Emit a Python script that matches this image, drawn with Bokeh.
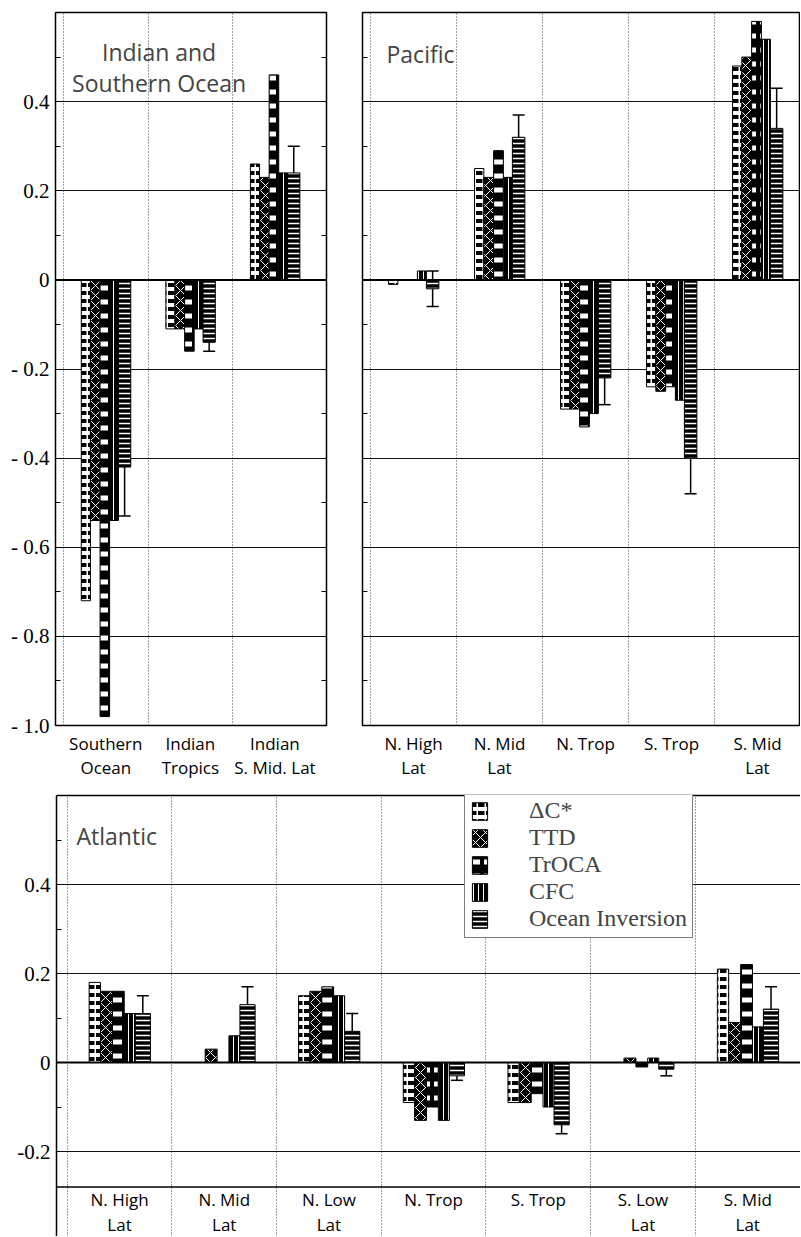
import numpy as np
from bokeh.plotting import figure
from bokeh.layouts import column, row
from bokeh.models import (Range1d, FixedTicker, LinearAxis, Span, Label, Whisker, TeeHead,
                          ColumnDataSource, CustomJSTickFormatter, Legend, LegendItem)
from bokeh.core.properties import value
from bokeh.embed import file_html
from bokeh.resources import INLINE

# ---------------- data ----------------
methods = ["ΔC*", "TTD", "TrOCA", "CFC", "Ocean Inversion"]

indian_regions = ["Southern\nOcean", "Indian\nTropics", "Indian\nS. Mid. Lat"]
indian_dc = [-0.72, -0.11, 0.26]
indian_ttd = [-0.54, -0.11, 0.23]
indian_troca = [-0.98, -0.16, 0.46]
indian_cfc = [-0.54, -0.11, 0.24]
indian_oi = [-0.42, -0.14, 0.24]
indian_oi_err = [0.11, 0.02, 0.06]

pacific_regions = ["N. High\nLat", "N. Mid\nLat", "N. Trop", "S. Trop", "S. Mid\nLat"]
pacific_dc = [-0.01, 0.25, -0.29, -0.24, 0.48]
pacific_ttd = [0.0, 0.23, -0.29, -0.25, 0.50]
pacific_troca = [0.0, 0.29, -0.33, -0.24, 0.58]
pacific_cfc = [0.02, 0.23, -0.30, -0.27, 0.54]
pacific_oi = [-0.02, 0.32, -0.22, -0.40, 0.34]
pacific_oi_err = [0.04, 0.05, 0.06, 0.08, 0.09]

atlantic_regions = ["N. High\nLat", "N. Mid\nLat", "N. Low\nLat", "N. Trop", "S. Trop",
                    "S. Low\nLat", "S. Mid\nLat"]
atlantic_dc = [0.18, 0.0, 0.15, -0.09, -0.09, 0.0, 0.21]
atlantic_ttd = [0.16, 0.03, 0.16, -0.13, -0.09, 0.01, 0.09]
atlantic_troca = [0.16, 0.0, 0.17, -0.10, -0.07, -0.01, 0.22]
atlantic_cfc = [0.11, 0.06, 0.15, -0.13, -0.10, 0.01, 0.08]
atlantic_oi = [0.11, 0.13, 0.07, -0.03, -0.14, -0.015, 0.12]
atlantic_oi_err = [0.04, 0.04, 0.04, 0.01, 0.02, 0.015, 0.05]

# ---------------- styles ----------------
EDGES = [-0.29, -0.182, -0.068, 0.045, 0.15, 0.295]
BAR_CENTERS = [(EDGES[i] + EDGES[i + 1]) / 2 for i in range(5)]
BAR_WIDTHS = [EDGES[i + 1] - EDGES[i] for i in range(5)]

HATCH = [
    dict(fill_color="white", hatch_pattern="horizontal_dash", hatch_scale=8,
         hatch_weight=4, hatch_color="black"),
    dict(fill_color="black", hatch_pattern="diagonal_cross", hatch_scale=10,
         hatch_weight=1, hatch_color="white"),
    dict(fill_color="black", hatch_pattern="horizontal_dash", hatch_scale=14,
         hatch_weight=5, hatch_color="white"),
    dict(fill_color="black", hatch_pattern="vertical_line", hatch_scale=5,
         hatch_weight=1, hatch_color="white"),
    dict(fill_color="black", hatch_pattern="horizontal_line", hatch_scale=5,
         hatch_weight=1.5, hatch_color="white"),
]

SANS = "Open Sans"
SERIF = "Liberation Serif"
LBL_LH = 1.08


def add_bars(p, regions, series, oi_err):
    centers = np.arange(len(regions)) + 0.5
    rends = []
    for j, vals in enumerate(series):
        src = ColumnDataSource(dict(x=centers + BAR_CENTERS[j], top=vals))
        r = p.vbar(x="x", top="top", bottom=0, width=BAR_WIDTHS[j], source=src,
                   line_color="black", line_width=1, **HATCH[j])
        rends.append(r)
    oi = np.array(series[4], dtype=float)
    err = np.array(oi_err, dtype=float)
    wsrc = ColumnDataSource(dict(x=centers + BAR_CENTERS[4], lo=oi - err, hi=oi + err))
    w = Whisker(base="x", lower="lo", upper="hi", source=wsrc, line_color="black",
                line_width=1.5,
                upper_head=TeeHead(size=12, line_width=1.5, line_color="black"),
                lower_head=TeeHead(size=12, line_width=1.5, line_color="black"))
    p.add_layout(w)
    return rends


def style_yaxis(ax, major, minor, code, size="21px"):
    ax.ticker = FixedTicker(ticks=major, minor_ticks=minor)
    ax.formatter = CustomJSTickFormatter(code=code)
    ax.axis_line_color = None
    ax.major_tick_in = 5
    ax.major_tick_out = 0
    ax.minor_tick_in = 5
    ax.minor_tick_out = 0
    ax.major_tick_line_color = "black"
    ax.minor_tick_line_color = "black"
    ax.major_tick_line_width = 1.2
    ax.minor_tick_line_width = 1.2
    ax.major_label_text_font = SERIF
    ax.major_label_text_font_size = size
    ax.major_label_text_color = "black"
    ax.major_label_standoff = 6


def style_xaxis(ax, regions):
    ax.ticker = FixedTicker(ticks=list(np.arange(len(regions)) + 0.5))
    ax.formatter = CustomJSTickFormatter(args=dict(labels=regions),
                                         code="return labels[Math.round(tick - 0.5)];")
    ax.axis_line_color = None
    ax.major_tick_line_color = None
    ax.minor_tick_line_color = None
    ax.major_label_text_font = SANS
    ax.major_label_text_font_size = "17px"
    ax.major_label_text_color = "black"
    ax.major_label_text_line_height = LBL_LH
    ax.major_label_standoff = 0


def common(p, boundaries, grid_vals):
    p.xgrid.ticker = FixedTicker(ticks=boundaries)
    p.xgrid.grid_line_color = "#444444"
    p.xgrid.grid_line_dash = "1 2"
    p.xgrid.grid_line_width = 1
    p.ygrid.ticker = FixedTicker(ticks=grid_vals)
    p.ygrid.grid_line_color = "#111111"
    p.ygrid.grid_line_width = 1.2
    p.add_layout(Span(location=0, dimension="width", line_color="black", line_width=2))
    p.background_fill_color = "white"
    p.border_fill_color = "white"


NEG_FMT = ("if (Math.abs(tick) < 1e-9) return '0';"
           "return (tick < 0 ? '- ' : '') + Math.abs(tick).toFixed(1);")
BLANK_FMT = "return '';"
TOP_MAJOR = [-1.0, -0.8, -0.6, -0.4, -0.2, 0.0, 0.2, 0.4]
TOP_MINOR = [-0.9, -0.7, -0.5, -0.3, -0.1, 0.1, 0.3, 0.5]
TOP_GRID = [-0.8, -0.6, -0.4, -0.2, 0.2, 0.4]

# ---------------- Indian & Southern Ocean ----------------
p1 = figure(width=340, height=782, output_backend="svg", toolbar_location=None,
            x_range=Range1d(-0.095, 3.11), y_range=Range1d(-1.0, 0.6),
            min_border_left=55, min_border_right=14, min_border_top=12, min_border_bottom=56)
p1.outline_line_color = "black"
p1.outline_line_width = 1.5
common(p1, [0, 1, 2], TOP_GRID)
style_yaxis(p1.yaxis[0], TOP_MAJOR, TOP_MINOR, NEG_FMT)
r_ax = LinearAxis()
style_yaxis(r_ax, TOP_MAJOR, TOP_MINOR, BLANK_FMT)
r_ax.major_label_standoff = 0
p1.add_layout(r_ax, "right")
style_xaxis(p1.xaxis[0], indian_regions)
add_bars(p1, indian_regions,
         [indian_dc, indian_ttd, indian_troca, indian_cfc, indian_oi], indian_oi_err)
p1.add_layout(Label(x=1.13, y=0.511, text="Indian and", text_align="center",
                    text_baseline="alphabetic", text_font=SANS, text_font_size="23px"))
p1.add_layout(Label(x=1.13, y=0.441, text="Southern Ocean", text_align="center",
                    text_baseline="alphabetic", text_font=SANS, text_font_size="23px"))

# ---------------- Pacific ----------------
p2 = figure(width=460, height=782, output_backend="svg", toolbar_location=None,
            x_range=Range1d(-0.093, 5.0), y_range=Range1d(-1.0, 0.6),
            min_border_left=22, min_border_right=0, min_border_top=12, min_border_bottom=56)
p2.outline_line_color = "black"
p2.outline_line_width = 1.5
common(p2, [0, 1, 2, 3, 4], TOP_GRID)
style_yaxis(p2.yaxis[0], TOP_MAJOR, TOP_MINOR, BLANK_FMT)
p2.yaxis[0].major_label_standoff = 0
style_xaxis(p2.xaxis[0], pacific_regions)
add_bars(p2, pacific_regions,
         [pacific_dc, pacific_ttd, pacific_troca, pacific_cfc, pacific_oi], pacific_oi_err)
p2.add_layout(Label(x=0.186, y=0.507, text="Pacific", text_align="left",
                    text_baseline="alphabetic", text_font=SANS, text_font_size="23px"))

# ---------------- Atlantic ----------------
frame_h3 = 441
y_lo3 = 0.6 - frame_h3 / 445.0
p3 = figure(width=800, height=454, output_backend="svg", toolbar_location=None,
            x_range=Range1d(-0.102, 7.004), y_range=Range1d(y_lo3, 0.6),
            x_axis_location=None,
            min_border_left=56, min_border_right=0, min_border_top=13, min_border_bottom=0)
p3.outline_line_color = None
common(p3, [0, 1, 2, 3, 4, 5, 6], [-0.2, 0.2, 0.4])
style_yaxis(p3.yaxis[0], [-0.2, 0.0, 0.2, 0.4], [-0.1, 0.1, 0.3, 0.5],
            "if (Math.abs(tick) < 1e-9) return '0'; return tick.toFixed(1);")
p3.yaxis[0].axis_line_color = "black"
p3.yaxis[0].axis_line_width = 1.5
top_ax = LinearAxis(ticker=FixedTicker(ticks=[]), axis_line_color="black", axis_line_width=1.5,
                    major_tick_line_color=None, minor_tick_line_color=None,
                    major_label_standoff=0)
top_ax.formatter = CustomJSTickFormatter(code=BLANK_FMT)
p3.add_layout(top_ax, "above")
p3.add_layout(Span(location=-0.28, dimension="width", line_color="black", line_width=1.5))
rends3 = add_bars(p3, atlantic_regions,
                  [atlantic_dc, atlantic_ttd, atlantic_troca, atlantic_cfc, atlantic_oi],
                  atlantic_oi_err)
lab_src = ColumnDataSource(dict(x=np.arange(len(atlantic_regions)) + 0.5,
                                y=[-0.2815] * len(atlantic_regions),
                                text=atlantic_regions))
p3.text(x="x", y="y", text="text", source=lab_src, text_align="center", text_baseline="top",
        text_font=value(SANS), text_font_size="17px", text_line_height=LBL_LH,
        text_color="black")
p3.add_layout(Label(x=0.089, y=0.510, text="Atlantic", text_align="left",
                    text_baseline="alphabetic", text_font=SANS, text_font_size="23px"))

legend = Legend(items=[LegendItem(label=m, renderers=[r]) for m, r in zip(methods, rends3)],
                location=(408, 298), orientation="vertical",
                label_text_font=SERIF, label_text_font_size="24px",
                glyph_width=19, glyph_height=22, label_height=22, spacing=0, padding=5,
                margin=0, label_standoff=40, border_line_color="black",
                border_line_width=1.3, background_fill_color="white",
                background_fill_alpha=1.0)
p3.add_layout(legend)

layout = column(row(p1, p2), p3)
open("out.html", "w").write(file_html(layout, INLINE))
